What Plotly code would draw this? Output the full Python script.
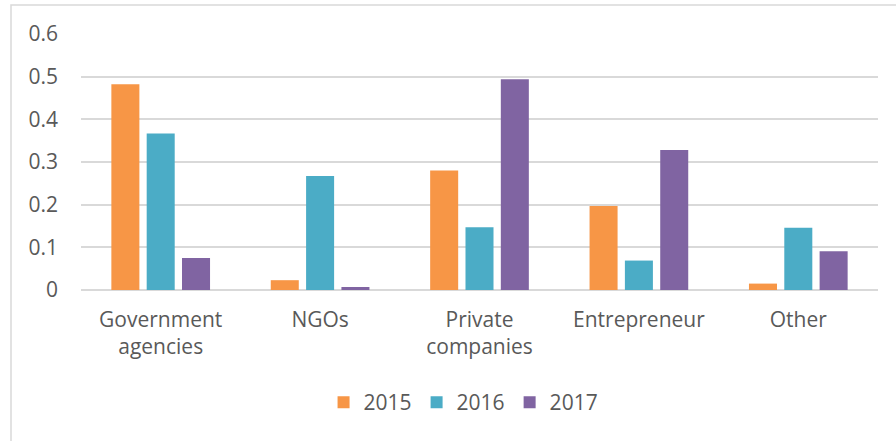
import plotly.graph_objects as go

# data
categories = ["Government<br>agencies", "NGOs", "Private<br>companies", "Entrepreneur", "Other"]
vals_2015 = [0.482, 0.023, 0.280, 0.197, 0.015]
vals_2016 = [0.367, 0.267, 0.147, 0.069, 0.146]
vals_2017 = [0.075, 0.007, 0.494, 0.328, 0.091]

series = [
    ("2015", vals_2015, "#F79646"),
    ("2016", vals_2016, "#4BACC6"),
    ("2017", vals_2017, "#8064A2"),
]

fig = go.Figure()
for name, vals, col in series:
    fig.add_trace(go.Bar(
        x=categories, y=vals, name=name,
        marker=dict(color=col, line=dict(width=0)),
    ))

grid = "#D9D9D9"
txt = "#595959"

fig.update_layout(
    width=896, height=441,
    margin=dict(l=81, r=18, t=34, b=151),
    paper_bgcolor="white", plot_bgcolor="white",
    font=dict(family="Open Sans", size=21, color=txt),
    barmode="group", bargap=0.335, bargroupgap=0.207,
    showlegend=True,
    legend=dict(orientation="h", x=0.48, xanchor="center", y=-0.44, yanchor="middle",
                font=dict(size=21, color=txt)),
    xaxis=dict(showgrid=False, showline=False, ticks="", ticklabelstandoff=15),
    yaxis=dict(range=[0, 0.6], dtick=0.1, showgrid=True, gridcolor=grid,
               gridwidth=1.5, zeroline=True, zerolinecolor=grid, zerolinewidth=1.5,
               showline=False, ticks="", ticklabelstandoff=22),
    # light frame around the chart area, open at right and bottom (cropped)
    shapes=[dict(type="rect", xref="paper", yref="paper",
                 x0=(11 - 81) / 797, x1=(910 - 81) / 797,
                 y0=(290 - 450) / 256, y1=(290 - 5) / 256,
                 line=dict(color=grid, width=1.5), fillcolor="rgba(0,0,0,0)", layer="below")],
)

# drop the default page margin so the figure fills the window exactly
fig.write_html("out.html", config={"displayModeBar": False},
               post_script="document.body.style.margin='0px';")
